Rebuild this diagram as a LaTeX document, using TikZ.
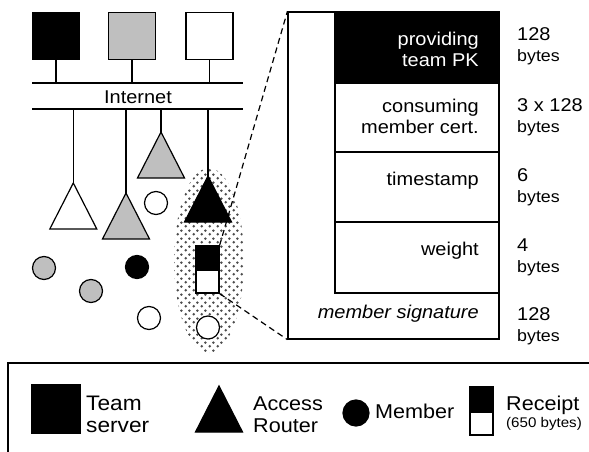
\documentclass[tikz,border=0pt]{standalone}
\usepackage{fontspec}
\setmainfont{Liberation Sans}[FakeStretch=1.08]
\usetikzlibrary{shapes.geometric,patterns.meta}
\newcommand{\mainfont}{\fontsize{18.5}{21}\selectfont}
\newcommand{\smallbytes}{\fontsize{16.5}{21}\selectfont}
\newcommand{\legendfont}{\fontsize{20}{22}\selectfont}
\tikzdeclarepattern{
  name=zonedots,
  type=uncolored,
  bounding box={(0pt,0pt) and (8pt,8pt)},
  tile size={(8pt,8pt)},
  code={\fill (2pt,2pt) circle (1.5pt); \fill (6pt,6pt) circle (1.5pt);}
}
\tikzset{
  thick line/.style={line width=1.2pt},
  server/.style={draw, thick line, minimum size=47pt, inner sep=0pt},
  member/.style={circle, draw, thick line, minimum size=23pt, inner sep=0pt},
  router/.style={draw, thick line},
  rcphalf/.style={draw, thick line, minimum width=23pt, minimum height=23pt, inner sep=0pt},
  cell/.style={draw, thick line, minimum width=164pt, inner sep=0pt},
  celltext/.style={anchor=base east, align=right, inner sep=0pt, font=\mainfont},
  sizetext/.style={anchor=base west, align=left, inner sep=0pt, font=\mainfont},
  legendtext/.style={anchor=base west, align=left, inner sep=0pt, font=\legendfont},
  zoomline/.style={thick line, dash pattern=on 6pt off 4pt},
}
% access router: name, apex, fill
\newcommand{\router}[3]{%
  \coordinate (#1) at #2;
  \filldraw[router, fill=#3] (#1) -- ++(-23.5,46) -- ++(47,0) -- cycle;
}
\begin{document}
\begin{tikzpicture}[x=1pt, y=-1pt]
  \useasboundingbox (0,0) rectangle (589,452);
  % roaming zone
  \node[ellipse, minimum width=70pt, minimum height=185pt, pattern=zonedots,
        pattern color=black!70] (zone) at (209,260.5) {};
  % team servers and internet
  \node[server, fill=black] (srvB) at (56,36) {};
  \node[server, fill=black!25] (srvG) at (132,36) {};
  \node[server, fill=white] (srvW) at (209.5,36) {};
  \coordinate (busTW) at (32,83);
  \coordinate (busTE) at (243,83);
  \coordinate (busBW) at (32,109);
  \coordinate (busBE) at (243,109);
  \draw[thick line] (busTW) -- (busTE);
  \draw[thick line] (busBW) -- (busBE);
  \node[font=\mainfont, anchor=base, inner sep=0pt] (inet) at (138,103.5) {Internet};
  \foreach \s in {srvB,srvG,srvW}
    \draw[thick line] (\s.south) -- (\s.south |- busTW);
  % access routers
  \router{rtW}{(73.3,183)}{white}
  \router{rtG}{(126,193)}{black!25}
  \router{rtH}{(161,132)}{black!25}
  \router{rtB}{(208,176)}{black}
  \foreach \r in {rtW,rtG,rtH,rtB}
    \draw[thick line] (\r) -- (\r |- busBW);
  % members
  \node[member, fill=white] (mW1) at (156,203) {};
  \node[member, fill=black!25] (mG1) at (44,268) {};
  \node[member, fill=black!25] (mG2) at (91,291) {};
  \node[member, fill=black] (mB) at (137,267) {};
  \node[member, fill=white] (mW2) at (149,318) {};
  \node[member, fill=white] (mW3) at (208,327.5) {};
  % receipt
  \node[rcphalf, fill=black, minimum height=24pt] (rcpT) at (207.5,258) {};
  \node[rcphalf, fill=white] (rcpB) at (207.5,281.5) {};
  % receipt layout
  \node[draw, thick line, minimum width=211pt, minimum height=327pt, inner sep=0pt] (pkt) at (393.5,175.5) {};
  \node[cell, fill=black, minimum height=71pt] (pk) at (417,47.5) {};
  \node[cell, minimum height=69pt] (cert) at (417,117.5) {};
  \node[cell, minimum height=70pt] (ts) at (417,187) {};
  \node[cell, minimum height=71pt] (wt) at (417,257.5) {};
  \node[celltext, text=white] (pkL) at (479,66.5) {providing\\team PK};
  \node[celltext] (certL) at (479,133.5) {consuming\\member cert.};
  \node[celltext] (tsL) at (479,185) {timestamp};
  \node[celltext] (wtL) at (479,255) {weight};
  \node[celltext, font=\mainfont\itshape] (sigL) at (479,318) {member signature};
  \draw[zoomline] (rcpT.north east) -- (pkt.north west);
  \draw[zoomline] (rcpB.south east) -- (pkt.south west);
  % field sizes
  \node[sizetext] (pkS) at (517,62) {128\\{\smallbytes bytes}};
  \node[sizetext] (certS) at (517,132.5) {3 x 128\\{\smallbytes bytes}};
  \node[sizetext] (tsS) at (517,202) {6\\{\smallbytes bytes}};
  \node[sizetext] (wtS) at (517,272.5) {4\\{\smallbytes bytes}};
  \node[sizetext] (sigS) at (517,341) {128\\{\smallbytes bytes}};
  % legend
  \draw[thick line] (8,460) |- (600,363);
  \node[server, fill=black, minimum size=48pt] (lgSrv) at (56,409) {};
  \node[legendtext, font=\fontsize{21}{22}\selectfont] (lgSrvL) at (86,432) {Team\\server};
  \router{lgRt}{(219,386)}{black}
  \node[legendtext] (lgRtL) at (253,432) {Access\\Router};
  \node[member, fill=black, minimum size=26pt] (lgMem) at (356,413) {};
  \node[legendtext] (lgMemL) at (375,418) {Member};
  \node[rcphalf, fill=black, minimum height=25pt] (lgRcpT) at (481.5,399.5) {};
  \node[rcphalf, fill=white] (lgRcpB) at (481.5,423.5) {};
  \node[legendtext] (lgRcpL) at (506,427) {Receipt\\[-5pt]{\fontsize{14}{17}\selectfont (650 bytes)}};
\end{tikzpicture}
\end{document}
